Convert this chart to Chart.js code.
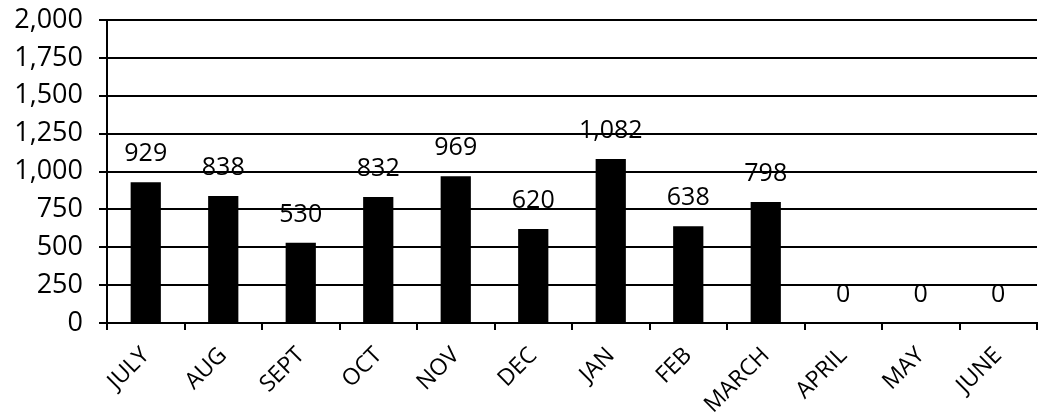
<!DOCTYPE html>
<html>
<head>
<meta charset="utf-8">
<script src="https://cdn.jsdelivr.net/npm/chart.js@4/dist/chart.umd.min.js"></script>
<style>
  html, body { margin: 0; padding: 0; background: #fff; }
  #wrap { width: 1039px; height: 415px; }
</style>
</head>
<body>
<div id="wrap"><canvas id="myChart"></canvas></div>
<script>
var months = ["JULY", "AUG", "SEPT", "OCT", "NOV", "DEC", "JAN", "FEB", "MARCH", "APRIL", "MAY", "JUNE"];
var counts = [929, 838, 530, 832, 969, 620, 1082, 638, 798, 0, 0, 0];
var yTicks = [0, 250, 500, 750, 1000, 1250, 1500, 1750, 2000];

// value labels above each bar
var barLabels = {
    id: "barLabels",
    afterDatasetsDraw: function (chart) {
        var ctx = chart.ctx;
        var meta = chart.getDatasetMeta(0);
        ctx.save();
        ctx.font = "25px 'Open Sans'";
        ctx.fillStyle = "#000";
        ctx.textAlign = "center";
        ctx.textBaseline = "middle";
        meta.data.forEach(function (bar, i) {
            ctx.fillText(counts[i].toLocaleString("en-US"), bar.x, bar.y - 28);
        });
        ctx.restore();
    }
};

var chart = new Chart(document.getElementById("myChart").getContext("2d"), {
    type: "bar",
    data: {
        labels: months,
        datasets: [{
            data: counts,
            backgroundColor: "#000",
            borderWidth: 0,
            barPercentage: 0.39,
            categoryPercentage: 1
        }]
    },
    options: {
        responsive: true,
        maintainAspectRatio: false,
        animation: false,
        layout: { padding: { top: 0, right: 2, left: 0, bottom: 0 } },
        plugins: { legend: { display: false }, tooltip: { enabled: false } },
        scales: {
            y: {
                min: 0,
                max: 2000,
                afterBuildTicks: function (s) { s.ticks = yTicks.map(function (v) { return { value: v }; }); },
                afterFit: function (s) { s.width = 107; s.paddingTop = 20; s.paddingBottom = 0; },
                grid: { color: "#000", lineWidth: 2, tickLength: 8, drawTicks: true },
                border: { color: "#000", width: 2 },
                ticks: {
                    color: "#000",
                    padding: 16,
                    font: { family: "Open Sans", size: 27 },
                    callback: function (v) { return v.toLocaleString("en-US"); }
                }
            },
            x: {
                afterFit: function (s) { s.height = 92; },
                grid: { drawOnChartArea: false, color: "#000", lineWidth: 2, tickLength: 7, offset: true },
                border: { color: "#000", width: 2 },
                ticks: {
                    color: "#000",
                    padding: 12,
                    maxRotation: 45,
                    minRotation: 45,
                    font: { family: "Open Sans", size: 23 }
                }
            }
        }
    },
    plugins: [barLabels]
});
</script>
</body>
</html>
